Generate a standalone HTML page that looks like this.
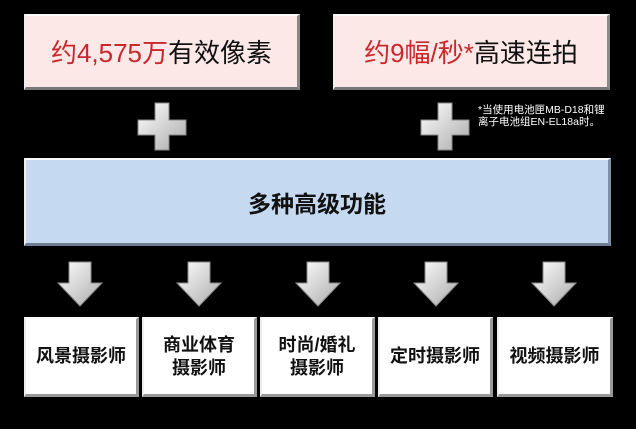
<!DOCTYPE html>
<html><head><meta charset="utf-8"><style>
body{margin:0;width:636px;height:429px;background:#000;position:relative;overflow:hidden;font-family:"Liberation Sans","Noto Sans CJK SC",sans-serif}
.b{position:absolute;box-sizing:border-box;display:flex;align-items:center;justify-content:center;text-align:center;
border-top:2px solid #fafafa;border-left:2px solid #eee;border-right:3px solid #888;border-bottom:3px solid #777}
.top{background:#fde8e8;font-size:26px;color:#111;top:14px;height:76px}
.top .r{color:#c8282c}
.blue{left:24px;width:587px;top:158px;height:88px;background:#c5d9f1;font-size:23px;font-weight:bold;color:#111;border-right-color:#7f8ea3;border-bottom-color:#6e7d92}
.bot{top:317px;height:80px;background:#fff;font-size:18px;font-weight:bold;color:#111;line-height:23px;border-right-color:#999;border-bottom-color:#999}
.note{position:absolute;left:478px;top:104px;font-size:10.5px;color:#fff;line-height:12px}
svg{position:absolute;left:0;top:0}
</style></head><body>
<div class="b top" style="left:24px;width:276px"><span><span class="r">约4,575万</span>有效像素</span></div>
<div class="b top" style="left:333px;width:277px"><span><span class="r">约9幅/秒*</span>高速连拍</span></div>
<div class="note">*当使用电池匣MB-D18和锂<br>离子电池组EN-EL18a时。</div>
<svg width="636" height="429">
<defs><linearGradient id="g" x1="0" y1="0" x2="1" y2="1"><stop offset="0" stop-color="#fff"/><stop offset="1" stop-color="#aaa"/></linearGradient></defs>
<g fill="url(#g)" stroke="#888" stroke-width="1">
<path d="M155 103h14v17h17v15h-17v15h-14v-15h-17v-15h17z"/>
<path d="M438 103h14v17h17v15h-17v15h-14v-15h-17v-15h17z"/>
<path d="M69 262h22v21h11l-22 23l-22-23h11z"/>
<path d="M188 262h22v21h11l-22 23l-22-23h11z"/>
<path d="M307 262h22v21h11l-22 23l-22-23h11z"/>
<path d="M425 262h22v21h11l-22 23l-22-23h11z"/>
<path d="M543 262h22v21h11l-22 23l-22-23h11z"/>
</g></svg>
<div class="b blue">多种高级功能</div>
<div class="b bot" style="left:24px;width:115px">风景摄影师</div>
<div class="b bot" style="left:142px;width:115px">商业体育<br>摄影师</div>
<div class="b bot" style="left:260px;width:115px">时尚/婚礼<br>摄影师</div>
<div class="b bot" style="left:378px;width:115px">定时摄影师</div>
<div class="b bot" style="left:497px;width:116px">视频摄影师</div>
</body></html>
